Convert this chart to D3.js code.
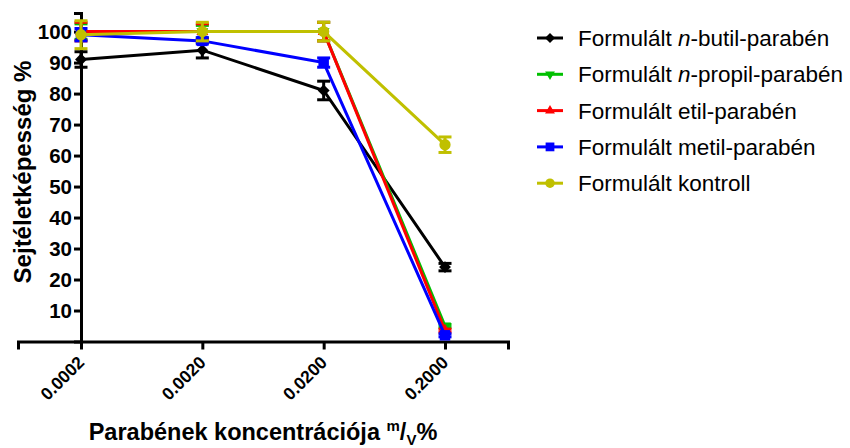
<!DOCTYPE html>
<html>
<head>
<meta charset="utf-8">
<script src="https://cdn.jsdelivr.net/npm/d3@7"></script>
<style>
  body { margin: 0; background: #fff; }
  svg { font-family: "Liberation Sans", Arial, sans-serif; }
</style>
</head>
<body>
<svg id="chart" width="850" height="448"></svg>
<script>
// concentrations (m/V %)
const concentrations = [0.0002, 0.002, 0.02, 0.2];
const concLabels = ["0.0002", "0.0020", "0.0200", "0.2000"];
const yTicks = [10, 20, 30, 40, 50, 60, 70, 80, 90, 100];

const seriesNames = [
  ["Formulált ", "n", "-butil-parabén"],
  ["Formulált ", "n", "-propil-parabén"],
  ["Formulált etil-parabén"],
  ["Formulált metil-parabén"],
  ["Formulált kontroll"]
];
const butylValues   = [91, 94, 81, 24];
const butylErr      = [2.5, 2.5, 3, 1.2];
const propylValues  = [100, 100, 100, 5];
const propylErr     = [2.5, 2, 3, 0.5];
const ethylValues   = [100, 100, 100, 3.5];
const ethylErr      = [3, 2.5, 3, 0.5];
const methylValues  = [99, 97, 90, 2];
const methylErr     = [2, 1, 1.5, 0.5];
const controlValues = [99, 100, 100, 63.5];
const controlErr    = [4.5, 3, 3, 2.5];

const colors = ["#000000", "#00c000", "#ff0000", "#0000ff", "#c0c000"];
const symbols = [d3.symbolDiamond2, "down", d3.symbolTriangle2, d3.symbolSquare2, d3.symbolCircle];
const symSize = [90, 100, 100, 140, 100];

const series = [
  {values: butylValues, err: butylErr},
  {values: propylValues, err: propylErr},
  {values: ethylValues, err: ethylErr},
  {values: methylValues, err: methylErr},
  {values: controlValues, err: controlErr}
];

const svg = d3.select("#chart");

const x = d3.scaleLog().domain([0.0002, 0.2]).range([81, 445]);
const xAxisScale = x.copy().domain([x.invert(18), x.invert(508)]).range([18, 508]);
const y = d3.scaleLinear().domain([0, 106]).range([341.5, 13]);

// axes
const xAxis = svg.append("g")
  .attr("transform", `translate(0,${y(0)})`)
  .call(d3.axisBottom(xAxisScale).tickValues(concentrations).tickSizeOuter(0).tickSize(8).tickFormat(""));
xAxis.select(".domain").attr("stroke-width", 3);
xAxis.selectAll(".tick line").attr("stroke-width", 3);

xAxis.selectAll(".tick")
  .append("text")
  .attr("fill", "#000")
  .attr("font-size", 17.5)
  .attr("font-weight", "bold")
  .attr("text-anchor", "end")
  .attr("transform", "translate(4,22) rotate(-45)")
  .text((d, i) => concLabels[i]);

const yAxis = svg.append("g")
  .attr("transform", `translate(${x(0.0002)},0)`)
  .call(d3.axisLeft(y).tickValues(yTicks).tickSizeOuter(0).tickSize(7));
yAxis.select(".domain").attr("stroke-width", 3);
yAxis.selectAll(".tick line").attr("stroke-width", 3);
yAxis.selectAll(".tick text")
  .attr("font-size", 20.5).attr("font-weight", "bold").attr("fill", "#000")
  .attr("x", -9).attr("dy", "0.36em");

// axis titles
svg.append("text")
  .attr("transform", `translate(31,172) rotate(-90)`)
  .attr("text-anchor", "middle")
  .attr("font-size", 24).attr("font-weight", "bold")
  .text("Sejtéletképesség %");

const xt = svg.append("text")
  .attr("x", 263).attr("y", 440)
  .attr("text-anchor", "middle")
  .attr("font-size", 23.5).attr("font-weight", "bold");
xt.append("tspan").text("Parabének koncentrációja ");
xt.append("tspan").attr("font-size", 15).attr("dy", -9).text("m");
xt.append("tspan").attr("font-size", 23.5).attr("dy", 9).text("/");
xt.append("tspan").attr("font-size", 15).attr("dy", 5).text("V");
xt.append("tspan").attr("font-size", 23.5).attr("dy", -5).text("%");

function symPath(i, k) {
  const t = symbols[i] === "down" ? d3.symbolTriangle2 : symbols[i];
  return d3.symbol().type(t).size(symSize[i] * k)();
}
function symTransform(i, cx, cy) {
  return symbols[i] === "down" ? `translate(${cx},${cy}) rotate(180)` : `translate(${cx},${cy})`;
}

const line = d3.line().x((d, j) => x(concentrations[j])).y(d => y(d));

series.forEach((s, i) => {
  const g = svg.append("g");
  g.append("path")
    .attr("d", line(s.values))
    .attr("fill", "none")
    .attr("stroke", colors[i])
    .attr("stroke-width", 3);
  s.values.forEach((v, j) => {
    const cx = x(concentrations[j]);
    const e = s.err[j];
    g.append("line")
      .attr("x1", cx).attr("x2", cx)
      .attr("y1", y(v - e)).attr("y2", y(v + e))
      .attr("stroke", colors[i]).attr("stroke-width", 3);
    [v - e, v + e].forEach(b => {
      g.append("line")
        .attr("x1", cx - 6.5).attr("x2", cx + 6.5)
        .attr("y1", y(b)).attr("y2", y(b))
        .attr("stroke", colors[i]).attr("stroke-width", 3);
    });
    g.append("path")
      .attr("d", symPath(i, 1))
      .attr("transform", symTransform(i, cx, y(v)))
      .attr("fill", colors[i]);
  });
});

// legend
const legend = svg.append("g");
seriesNames.forEach((parts, i) => {
  const ly = 38 + i * 36.3;
  legend.append("line")
    .attr("x1", 537).attr("x2", 563)
    .attr("y1", ly).attr("y2", ly)
    .attr("stroke", colors[i]).attr("stroke-width", 3);
  legend.append("path")
    .attr("d", symPath(i, 0.7))
    .attr("transform", symTransform(i, 550, ly))
    .attr("fill", colors[i]);
  const t = legend.append("text")
    .attr("x", 578).attr("y", ly).attr("dy", "0.36em")
    .attr("font-size", 22.5);
  parts.forEach((p, k) => {
    t.append("tspan").attr("font-style", p === "n" ? "italic" : null).text(p);
  });
});
</script>
</body>
</html>
